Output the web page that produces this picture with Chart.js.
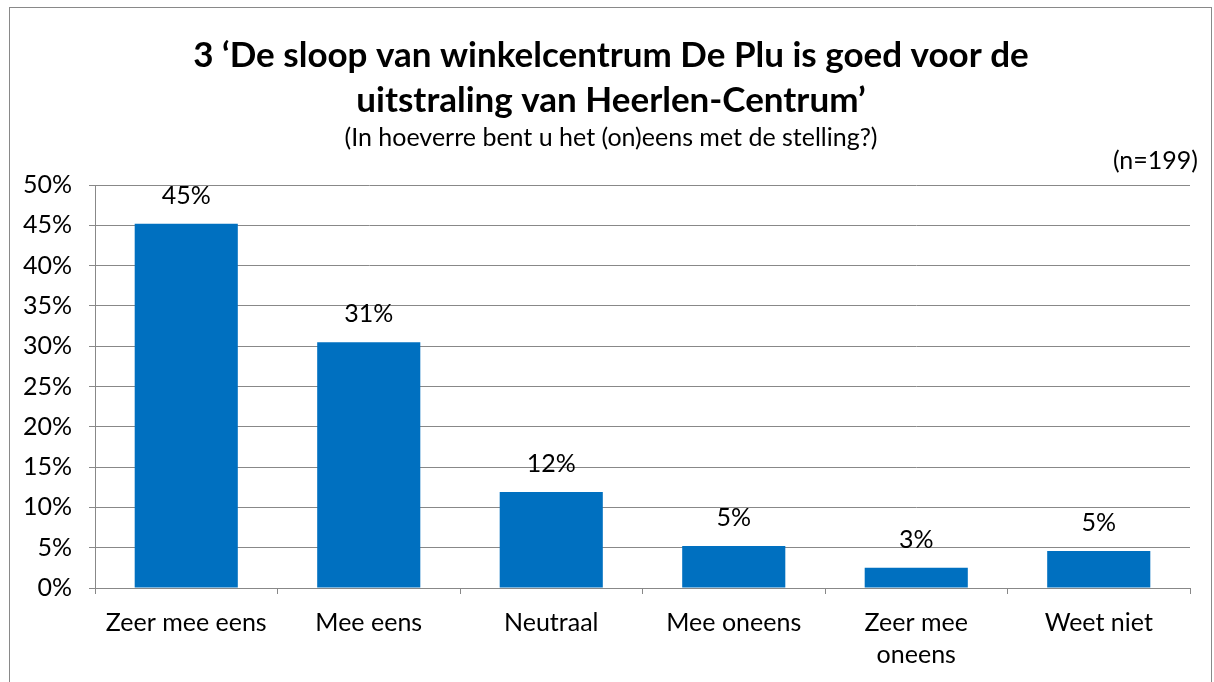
<!DOCTYPE html>
<html>
<head>
<meta charset="utf-8">
<script src="https://cdn.jsdelivr.net/npm/chart.js@4"></script>
<style>
    body { margin: 0; background: #fff; }
    #wrap { position: relative; width: 1214px; height: 682px; }
    #frame { position: absolute; left: 9px; top: 7px; width: 1203px; height: 680px; border: 1px solid #898989; box-sizing: border-box; }
    canvas { position: absolute; left: 0; top: 0; }
</style>
</head>
<body>
<div id="wrap">
    <div id="frame"></div>
    <canvas id="myChart" width="1214" height="682"></canvas>
</div>
<script>
// CHART DATA
const categories = ["Zeer mee eens", "Mee eens", "Neutraal", "Mee oneens", ["Zeer mee", "oneens"], "Weet niet"];
const percentages = [45.2, 30.5, 11.9, 5.2, 2.5, 4.6];
const valueLabels = ["45%", "31%", "12%", "5%", "3%", "5%"];
const titleLines = ["3 \u2018De sloop van winkelcentrum De Plu is goed voor de", "uitstraling van Heerlen-Centrum\u2019"];
const subtitleText = "(In hoeverre bent u het (on)eens met de stelling?)";
const sampleText = "(n=199)";

const FONT = "Lato, 'Open Sans', sans-serif";
const GRID = "#888888";

// LABELS ABOVE BARS + N
const barLabels = {
    id: "barLabels",
    afterDatasetsDraw(chart) {
        const ctx = chart.ctx;
        const meta = chart.getDatasetMeta(0);
        ctx.save();
        ctx.font = "25px " + FONT;
        ctx.fillStyle = "#000";
        ctx.textAlign = "center";
        ctx.textBaseline = "alphabetic";
        meta.data.forEach(function (bar, i) {
            ctx.fillText(valueLabels[i], bar.x, bar.y - 20);
        });
        ctx.textAlign = "right";
        ctx.fillText(sampleText, 1198, 169);
        ctx.restore();
    },
};

const ctx = document.getElementById("myChart").getContext("2d");
new Chart(ctx, {
    type: "bar",
    data: {
        labels: categories,
        datasets: [
            {
                data: percentages,
                backgroundColor: "#0070C0",
                categoryPercentage: 1,
                barPercentage: 0.565,
            },
        ],
    },
    options: {
        responsive: false,
        animation: false,
        layout: { padding: { left: 10, right: 2, top: 0, bottom: 0 } },
        plugins: {
            legend: { display: false },
            tooltip: { enabled: false },
            title: {
                display: true,
                text: titleLines,
                color: "#000",
                font: { family: FONT, size: 35, weight: "bold", lineHeight: 1.286 },
                padding: { top: 33, bottom: 2 },
            },
            subtitle: {
                display: true,
                text: subtitleText,
                color: "#000",
                font: { family: FONT, size: 25, lineHeight: 1 },
                padding: { top: 0, bottom: 35 },
            },
        },
        scales: {
            x: {
                grid: { offset: true, drawOnChartArea: false, color: GRID, tickLength: 6 },
                border: { color: GRID },
                ticks: { color: "#000", font: { family: FONT, size: 25, lineHeight: 1.28 }, padding: 13, maxRotation: 0 },
                afterFit(s) { s.height = 94; },
            },
            y: {
                min: 0,
                max: 50,
                ticks: {
                    stepSize: 5,
                    color: "#000",
                    font: { family: FONT, size: 25 },
                    padding: 17,
                    callback: function (v) { return v + "%"; },
                },
                grid: { color: GRID, tickLength: 6 },
                border: { color: GRID },
                afterFit(s) { s.width = 85; },
            },
            // empty right axis, only to keep the plot's right edge in place
            yRight: {
                position: "right",
                min: 0,
                max: 50,
                ticks: { display: false },
                grid: { display: false, drawTicks: false },
                border: { display: false },
                afterFit(s) { s.width = 22; },
            },
        },
    },
    plugins: [barLabels],
});
</script>
</body>
</html>
